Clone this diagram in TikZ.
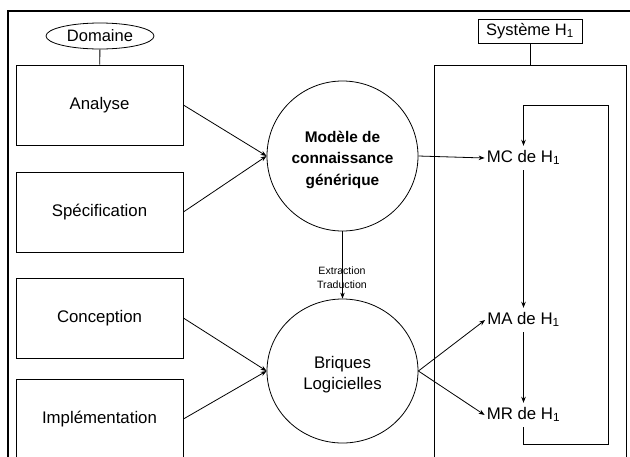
\documentclass[tikz,border=0pt]{standalone}
\usepackage{fontspec}
\setmainfont{Liberation Sans}
\usetikzlibrary{shapes.geometric,arrows.meta}
\begin{document}
\begin{tikzpicture}[x=1pt,y=-1pt,
  thinline/.style={line width=0.8pt},
  arr/.style={thinline,-{Stealth[length=6pt,width=4.5pt]}},
  stagebox/.style={draw,thinline,minimum width=167pt,minimum height=80pt,inner sep=0pt,font=\fontsize{16.8}{20}\selectfont},
  bigcirc/.style={draw,thinline,ellipse,inner sep=0pt},
  circtext/.style={align=center,inner sep=0pt},
  modtext/.style={inner xsep=2pt,inner ysep=4pt,text height=12pt,text depth=4pt,font=\fontsize{16.8}{20}\selectfont}]
\useasboundingbox (0,0) rectangle (630,456);
\begin{scope}
\clip (0,0) rectangle (630,456);
% outer frame
\draw[line width=2.2pt] (8,11) rectangle (640,480);
% Domaine
\node[draw,thinline,ellipse,minimum width=108pt,minimum height=26pt,inner sep=0pt,font=\fontsize{16.5}{20}\selectfont] (dom) at (100,36) {Domaine};
\node[stagebox] (ana) at (99.5,105) {Analyse};
\node[stagebox] (spe) at (99.5,212) {Spécification};
\node[stagebox] (con) at (99.5,318) {Conception};
\node[stagebox] (imp) at (99.5,419) {Implémentation};
\draw[thinline] (dom) -- (ana);
% circles
\node[bigcirc,minimum width=151pt,minimum height=150pt] (mod) at (342.5,156) {};
\node[circtext,font=\bfseries\fontsize{15.4}{21.5}\selectfont] (modtxt) at ([yshift=-3.5pt]mod.center) {Modèle de\\connaissance\\générique};
\node[bigcirc,minimum width=151pt,minimum height=144pt] (bri) at (342.5,371) {};
\node[circtext,font=\fontsize{16.8}{20.5}\selectfont] (britxt) at ([yshift=-3.5pt]bri.center) {Briques\\Logicielles};
\draw[arr] (ana.east) -- (mod.west);
\draw[arr] (spe.east) -- (mod.west);
\draw[arr] (con.east) -- (bri.west);
\draw[arr] (imp.east) -- (bri.west);
\draw[arr] (mod.south) -- (bri.north);
\node[align=center,font=\fontsize{10.6}{14}\selectfont,inner sep=0pt] (ext) at (342,278) {Extraction\\Traduction};
% system
\node[draw,thinline,minimum width=104pt,minimum height=24pt,inner sep=0pt,font=\fontsize{16.5}{20}\selectfont] (sys) at (530,31) {Système H\textsubscript{1}};
\node[draw,thinline,minimum width=192pt,minimum height=420pt,anchor=north west,inner sep=0pt] (h1) at (434,65) {};
\draw[thinline] (sys.south) -- (sys.south |- h1.north);
% models
\node[modtext] (mc) at (523.5,158) {MC de H\textsubscript{1}};
\node[modtext] (ma) at (523.5,320) {MA de H\textsubscript{1}};
\node[modtext] (mr) at (523.5,415) {MR de H\textsubscript{1}};
\draw[arr] (mod.east) -- (mc.west);
\draw[arr] (bri.east) -- (ma.west);
\draw[arr] (bri.east) -- (mr.west);
\draw[arr] (mc.south) -- (ma.north);
\draw[arr] (ma.south) -- (mr.north);
\coordinate (lbr) at (608,444);
\coordinate (ltr) at (608,105);
\draw[arr] (mr.south) |- (lbr) -- (ltr) -| (mc.north);
\end{scope}
\end{tikzpicture}
\end{document}
